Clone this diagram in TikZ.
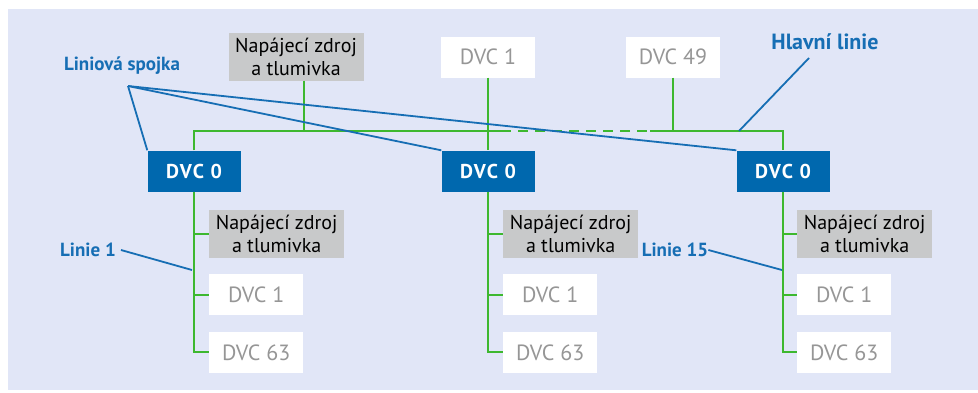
\documentclass[tikz,border=0pt]{standalone}
\usepackage{fontspec}
\setmainfont{PT Sans}
\usetikzlibrary{positioning}

\definecolor{bgblue}{RGB}{225,230,247}
\definecolor{busgreen}{RGB}{61,184,47}
\definecolor{linkblue}{RGB}{22,110,180}
\definecolor{dvcblue}{RGB}{0,104,174}
\definecolor{zdrojgrey}{RGB}{200,201,202}
\definecolor{dvcgrey}{RGB}{150,150,150}

\begin{document}
\begin{tikzpicture}[x=1pt,y=-1pt,
    bus/.style={draw=busgreen,line width=2pt},
    link/.style={draw=linkblue,line width=1.8pt},
    dvc/.style={fill=white,text=dvcgrey,minimum width=94pt,minimum height=41pt,
                inner sep=0pt,font=\fontsize{22}{24}\selectfont},
    zdroj/.style={fill=zdrojgrey,align=center,minimum width=135pt,minimum height=48pt,
                  inner sep=0pt,font=\fontsize{20}{23}\selectfont},
    coupler/.style={fill=dvcblue,text=white,minimum width=93pt,minimum height=41pt,
                    inner sep=0pt,font=\bfseries\fontsize{20}{22}\selectfont\addfontfeatures{LetterSpace=8}},
    lbl/.style={text=linkblue,inner sep=0pt,font=\bfseries\fontsize{19}{21}\selectfont}]
  \useasboundingbox (0,0) rectangle (978,392);
  \fill[bgblue] (8,9) rectangle (978,390);

  % main line
  \node[zdroj]   (zdroj)  at (296,56.5) {Napájecí zdroj\\a tlumivka};
  \node[dvc]     (hdvc1)  at (488,57)   {DVC 1};
  \node[dvc]     (hdvc49) at (673,57)   {DVC 49};
  \node[coupler] (lk1)    at (194,171)  {DVC 0};
  \node[coupler] (lk2)    at (488,171)  {DVC 0};
  \node[coupler] (lk3)    at (783,171)  {DVC 0};

  % line 1
  \node[zdroj,anchor=west] (zdroj1) at (209,234) {Napájecí zdroj\\a tlumivka};
  \node[dvc,below=16pt of zdroj1.south west,anchor=north west] (dvc1a) {DVC 1};
  \node[dvc,below=16pt of dvc1a.south west,anchor=north west]  (dvc63a) {DVC 63};
  % middle line
  \node[zdroj,anchor=west] (zdroj2) at (503,234) {Napájecí zdroj\\a tlumivka};
  \node[dvc,below=16pt of zdroj2.south west,anchor=north west] (dvc1b) {DVC 1};
  \node[dvc,below=16pt of dvc1b.south west,anchor=north west]  (dvc63b) {DVC 63};
  % line 15
  \node[zdroj,anchor=west] (zdroj3) at (797,234) {Napájecí zdroj\\a tlumivka};
  \node[dvc,below=16pt of zdroj3.south west,anchor=north west] (dvc1c) {DVC 1};
  \node[dvc,below=16pt of dvc1c.south west,anchor=north west]  (dvc63c) {DVC 63};

  % labels
  \node[lbl] (spojkaLbl) at (122,66)  {Liniová spojka};
  \node[lbl,font=\bfseries\fontsize{22}{24}\selectfont] (hlavniLbl) at (825,42) {Hlavní linie};
  \node[lbl] (linie1)    at (88,250)  {Linie 1};
  \node[lbl] (linie15)   at (675,250) {Linie 15};

  \coordinate (dashA) at (511,131);
  \coordinate (dashB) at (650,131);
  \coordinate (spojka) at (128,86);
  \coordinate (hlavni) at (809,58);
  \coordinate (hlavniEnd) at (739,131);
  \coordinate (linie1End) at (192,270);
  \coordinate (linie15End) at (782,270);

  % green bus
  \draw[bus] (lk1.north) |- (dashA);
  \draw[bus,dash pattern=on 10pt off 7pt,dash phase=10pt] (dashA) -- (dashB);
  \draw[bus] (dashB) -| (lk3.north);
  \draw[bus] ([xshift=8pt]zdroj.south) -- ([xshift=8pt]zdroj.south |- dashA);
  \draw[bus] (hdvc1.south) -- (lk2.north);
  \draw[bus] (hdvc49.south) -- (hdvc49.south |- dashA);

  \draw[bus] (lk1.south) |- (dvc63a.west);
  \draw[bus] (lk1.south |- zdroj1.west) -- (zdroj1.west);
  \draw[bus] (lk1.south |- dvc1a.west) -- (dvc1a.west);
  \draw[bus] (lk2.south) |- (dvc63b.west);
  \draw[bus] (lk2.south |- zdroj2.west) -- (zdroj2.west);
  \draw[bus] (lk2.south |- dvc1b.west) -- (dvc1b.west);
  \draw[bus] (lk3.south) |- (dvc63c.west);
  \draw[bus] (lk3.south |- zdroj3.west) -- (zdroj3.west);
  \draw[bus] (lk3.south |- dvc1c.west) -- (dvc1c.west);

  % blue pointers
  \draw[link] (spojka) -- (lk1.north west);
  \draw[link] (spojka) -- (lk2.north west);
  \draw[link] (spojka) -- (lk3.north west);
  \draw[link] (hlavni) -- (hlavniEnd);
  \draw[link] ([xshift=5pt]linie1.east) -- (linie1End);
  \draw[link] (linie15.east) -- (linie15End);
\end{tikzpicture}
\end{document}
